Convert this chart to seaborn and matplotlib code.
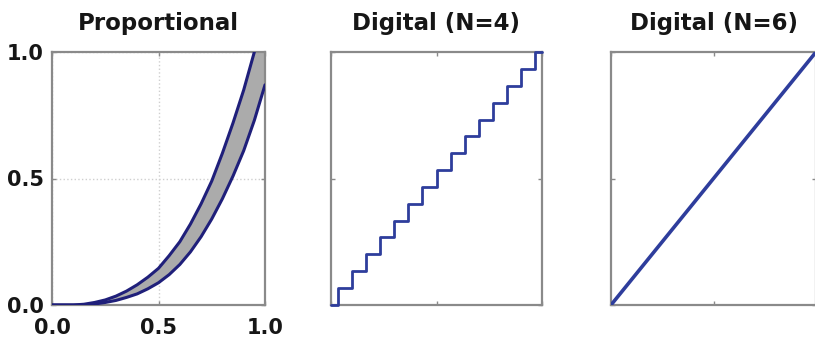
import numpy as np
import pandas as pd
import matplotlib
matplotlib.use("Agg")
import matplotlib.pyplot as plt
import seaborn as sns

# ---- data ----
titles = ["Proportional", "Digital (N=4)", "Digital (N=6)"]
tick_vals = [0.0, 0.5, 1.0]
tick_labels = ["0.0", "0.5", "1.0"]

# Proportional: upper and lower boundary curves of the grey band
prop_upper_x = [0.0, 0.10, 0.15, 0.20, 0.25, 0.30, 0.35, 0.40, 0.45, 0.50, 0.55, 0.60,
                0.65, 0.70, 0.75, 0.80, 0.85, 0.90, 0.95]
prop_upper_y = [0.0, 0.0, 0.003, 0.01, 0.02, 0.035, 0.055, 0.08, 0.11, 0.145, 0.195, 0.25,
                0.32, 0.40, 0.49, 0.60, 0.72, 0.85, 1.0]
prop_lower_x = [0.0, 0.10, 0.15, 0.20, 0.25, 0.30, 0.35, 0.40, 0.45, 0.50, 0.55, 0.60,
                0.65, 0.70, 0.75, 0.80, 0.85, 0.90, 0.95, 1.0]
prop_lower_y = [0.0, 0.0, 0.0, 0.004, 0.01, 0.018, 0.03, 0.044, 0.064, 0.088, 0.12, 0.16,
                0.21, 0.27, 0.34, 0.42, 0.51, 0.61, 0.73, 0.87]

# Digital N=4: 16 output levels, rising at these input thresholds
step_thresholds = [0.033, 0.100, 0.167, 0.233, 0.300, 0.367, 0.433, 0.500,
                   0.567, 0.633, 0.700, 0.767, 0.833, 0.900, 0.967]
step_levels = [0.0, 0.067, 0.133, 0.200, 0.267, 0.333, 0.400, 0.467,
               0.533, 0.600, 0.667, 0.733, 0.800, 0.867, 0.933, 1.0]

# Digital N=6: effectively linear
lin_x = [0.0, 1.0]
lin_y = [0.0, 1.0]

# ---- styling ----
sns.set_theme(style="white")
plt.rcParams["font.family"] = ["DejaVu Sans"]
plt.rcParams["font.weight"] = "bold"
plt.rcParams["text.color"] = "#161616"
plt.rcParams["xtick.labelcolor"] = "#161616"
plt.rcParams["ytick.labelcolor"] = "#161616"

W, H = 815, 340
fig = plt.figure(figsize=(W / 100, H / 100), dpi=100)

navy = "#1f1f7a"
blue = "#2e3d9c"
band = "#ababab"
spine_col = "#8a8a8a"
TITLE_FS = 16.5
TICK_FS = 15

def frame(ax, labels):
    ax.set_xlim(0, 1)
    ax.set_ylim(0, 1)
    ax.set_xticks(tick_vals)
    ax.set_yticks(tick_vals)
    if labels:
        ax.set_xticklabels(tick_labels, fontsize=TICK_FS, fontweight="bold")
        ax.set_yticklabels(tick_labels, fontsize=TICK_FS, fontweight="bold")
    else:
        ax.set_xticklabels([])
        ax.set_yticklabels([])
    ax.tick_params(direction="in", length=3, width=1, color=spine_col,
                   top=True, right=True, bottom=True, left=True)
    ax.tick_params(axis="x", pad=9)
    ax.tick_params(axis="y", pad=6)
    for s in ax.spines.values():
        s.set_color(spine_col)
        s.set_linewidth(1.6)
    ax.set_xlabel("")
    ax.set_ylabel("")

# Panel 1
ax1 = fig.add_axes([52 / W, 35 / H, 213 / W, 253 / H])
ax1.grid(True, color="#cfcfcf", linestyle=":", linewidth=1)
ax1.fill_between(prop_lower_x,
                 np.interp(prop_lower_x, prop_upper_x, prop_upper_y, right=1.0),
                 prop_lower_y, color=band, lw=0, zorder=2)
sns.lineplot(x=prop_upper_x, y=prop_upper_y, ax=ax1, color=navy, lw=2.2,
             sort=False, zorder=3)
sns.lineplot(x=prop_lower_x, y=prop_lower_y, ax=ax1, color=navy, lw=2.2,
             sort=False, zorder=3)
frame(ax1, True)
ax1.set_title(titles[0], fontsize=TITLE_FS, fontweight="bold", pad=16)

# Panel 2
ax2 = fig.add_axes([331 / W, 35 / H, 211 / W, 253 / H])
sx = [0.0] + step_thresholds + [1.0]
df_step = pd.DataFrame({"x": sx, "y": step_levels + [step_levels[-1]]})
ax2.step(df_step["x"], df_step["y"], where="post", color=blue, lw=2.0,
         clip_on=False, zorder=3)
frame(ax2, False)
ax2.set_title(titles[1], fontsize=TITLE_FS, fontweight="bold", pad=16)

# Panel 3
ax3 = fig.add_axes([611 / W, 35 / H, 205 / W, 253 / H])
sns.lineplot(x=lin_x, y=lin_y, ax=ax3, color=blue, lw=2.6, zorder=3)
frame(ax3, False)
ax3.set_title(titles[2], fontsize=TITLE_FS, fontweight="bold", pad=16)

fig.savefig("out.png", dpi=100)
